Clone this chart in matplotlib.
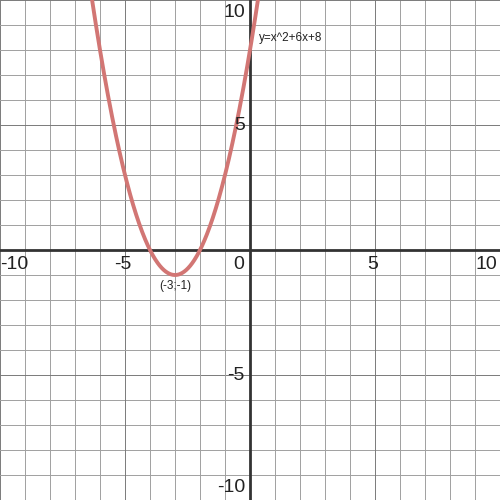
import numpy as np
import matplotlib.pyplot as plt

plt.rcParams['font.family'] = ['Liberation Sans', 'DejaVu Sans']

# parabola y = x^2 + 6x + 8, as written on the chart
coeffs = [1, 6, 8]
vertex = (-3, -1)
eq_label = "y=x^2+6x+8"
vertex_label = "(-3;-1)"

x_ticks = [-10, -5, 5, 10]
y_ticks = [-10, -5, 5, 10]

fig = plt.figure(figsize=(5, 5), dpi=100)
ax = fig.add_axes([0, 0, 1, 1])
ax.set_xlim(-10, 10)
ax.set_ylim(-10, 10)

# grid
for v in range(-10, 11):
    c = '#7a7a7a' if v % 5 == 0 else '#a0a0a0'
    ax.axvline(v, color=c, lw=0.7, zorder=1)
    ax.axhline(v, color=c, lw=0.7, zorder=1)

# axes
ax.axhline(0, color='#333333', lw=2, zorder=2)
ax.axvline(0, color='#333333', lw=2, zorder=2)

# curve
xs = np.linspace(-7, 1, 400)
ax.plot(xs, np.polyval(coeffs, xs), color='#d27674', lw=2.8, zorder=3)

# tick labels
for t in x_ticks:
    xt = t - 0.1 if abs(t) < 10 else t - 0.55 * np.sign(t)
    ax.text(xt, -0.25, str(t), ha='center', va='top', fontsize=14, color='#222222')
ax.text(-0.45, -0.25, "0", ha='center', va='top', fontsize=14, color='#222222')
for t in y_ticks:
    yt = t if abs(t) < 10 else t - 0.5 * np.sign(t)
    ax.text(-0.2, yt, str(t), ha='right', va='center', fontsize=14, color='#222222')

ax.text(0.35, 8.5, eq_label, ha='left', va='center', fontsize=8.5, color='#222222')
ax.text(vertex[0], vertex[1] - 0.2, vertex_label, ha='center', va='top', fontsize=8.5, color='#222222')

ax.axis('off')
fig.savefig('out.png', dpi=100)
